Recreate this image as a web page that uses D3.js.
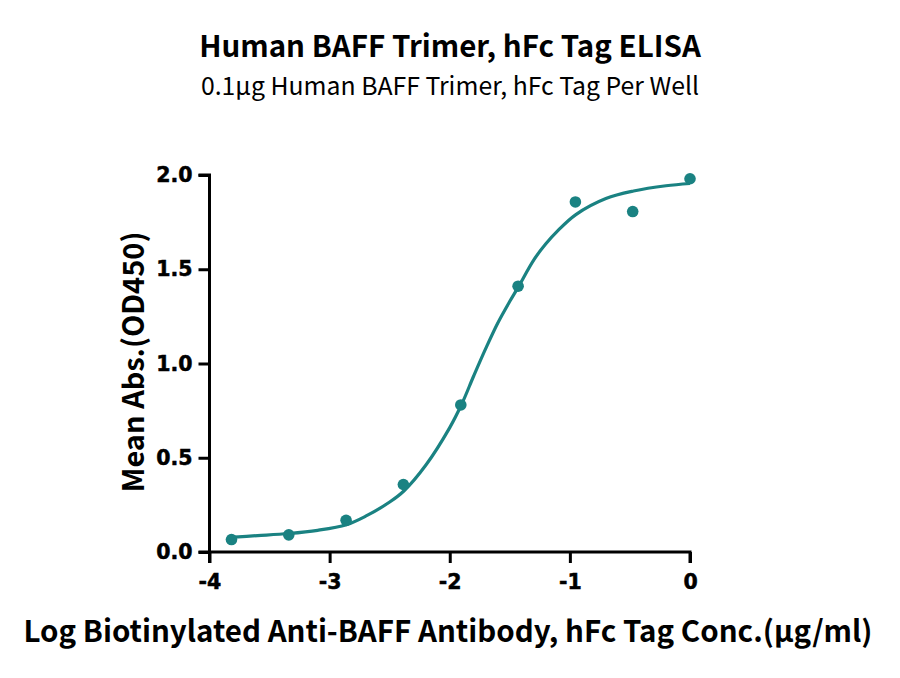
<!DOCTYPE html>
<html>
<head>
<meta charset="utf-8">
<script src="https://cdn.jsdelivr.net/npm/d3@7"></script>
<style>
  body { margin: 0; background: #fff; }
  svg { display: block; }
</style>
</head>
<body>
<svg id="chart"></svg>
<script>
var screen = {width: 900, height: 678}
var plot = {left: 209.5, right: 690, top: 175, bottom: 552}

var titleText = "Human BAFF Trimer, hFc Tag ELISA"
var subtitleText = "0.1\u03bcg Human BAFF Trimer, hFc Tag Per Well"
var xTitle = "Log Biotinylated Anti-BAFF Antibody, hFc Tag Conc.(\u03bcg/ml)"
var yTitle = "Mean Abs.(OD450)"

// measured points (log conc, OD450)
var logConc = [-3.817, -3.340, -2.863, -2.386, -1.908, -1.431, -0.954, -0.477, 0]
var meanAbs = [0.066, 0.091, 0.168, 0.358, 0.780, 1.410, 1.857, 1.806, 1.980]

// fitted curve
var fitX = [-3.83, -3.6, -3.34, -3.1, -2.86, -2.7, -2.5, -2.38, -2.2, -2.0, -1.9, -1.8, -1.7, -1.6, -1.5, -1.43, -1.3, -1.2, -1.1, -0.95, -0.7, -0.47, -0.2, 0]
var fitY = [0.078, 0.087, 0.098, 0.115, 0.145, 0.19, 0.265, 0.325, 0.46, 0.66, 0.785, 0.935, 1.08, 1.215, 1.33, 1.405, 1.55, 1.635, 1.705, 1.79, 1.875, 1.915, 1.943, 1.955]

var xTicks = [-4, -3, -2, -1, 0]
var yTicks = [0, 0.5, 1.0, 1.5, 2.0]

var teal = "#1a8282"
var sans = "'Noto Sans CJK SC', 'Noto Sans', sans-serif"

var svg = d3.select("#chart")
  .attr("width", screen.width)
  .attr("height", screen.height)

var xScale = d3.scaleLinear().domain([-4, 0]).range([plot.left, plot.right])
var yScale = d3.scaleLinear().domain([0, 2]).range([plot.bottom, plot.top])

// titles
svg.append("text")
  .attr("x", 450).attr("y", 57)
  .attr("text-anchor", "middle")
  .style("font-family", sans)
  .style("font-weight", "bold")
  .style("font-size", "29.5px")
  .text(titleText)

svg.append("text")
  .attr("x", 450).attr("y", 95)
  .attr("text-anchor", "middle")
  .style("font-family", sans)
  .style("font-size", "24.8px")
  .text(subtitleText)

// axes
var xAxis = d3.axisBottom(xScale)
  .tickValues(xTicks)
  .tickSize(11)
  .tickPadding(8)
  .tickFormat(function(d) { return String(d) })
var yAxis = d3.axisLeft(yScale)
  .tickValues(yTicks)
  .tickSize(11)
  .tickPadding(6)
  .tickFormat(d3.format(".1f"))

var gx = svg.append("g")
  .attr("transform", "translate(0," + plot.bottom + ")")
  .call(xAxis)
var gy = svg.append("g")
  .attr("transform", "translate(" + plot.left + ",0)")
  .call(yAxis)

gx.select(".domain").attr("d", "M" + (plot.left - 11) + ",0H" + plot.right + "V11")
gy.select(".domain").attr("d", "M-11," + plot.top + "H0V" + (plot.bottom + 11))

svg.selectAll(".domain, .tick line")
  .attr("stroke", "#000")
  .attr("stroke-width", 3)

svg.selectAll(".tick text")
  .attr("fill", "#000")
  .attr("stroke", "#000")
  .attr("stroke-width", 0.5)
  .style("font-family", "'DejaVu Sans', Verdana, sans-serif")
  .style("font-weight", "bold")
  .style("font-size", "20.5px")
gx.selectAll(".tick text").attr("dy", "0.9em")

// axis titles
svg.append("text")
  .attr("x", 448).attr("y", 642)
  .attr("text-anchor", "middle")
  .style("font-family", sans)
  .style("font-weight", "bold")
  .style("font-size", "29.5px")
  .text(xTitle)

svg.append("text")
  .attr("transform", "translate(144," + 362 + ") rotate(-90)")
  .attr("text-anchor", "middle")
  .style("font-family", sans)
  .style("font-weight", "bold")
  .style("font-size", "29px")
  .text(yTitle)

// fitted curve
var fitData = fitX.map(function(x, i) { return {x: x, y: fitY[i]} })
var line = d3.line()
  .x(function(d) { return xScale(d.x) })
  .y(function(d) { return yScale(d.y) })
  .curve(d3.curveCatmullRom.alpha(0.5))

svg.append("path")
  .datum(fitData)
  .attr("d", line)
  .attr("fill", "none")
  .attr("stroke", teal)
  .attr("stroke-width", 3.2)

// points
svg.selectAll("circle.pt")
  .data(logConc)
  .enter()
  .append("circle")
  .attr("class", "pt")
  .attr("cx", function(d) { return xScale(d) })
  .attr("cy", function(d, i) { return yScale(meanAbs[i]) })
  .attr("r", 5.8)
  .attr("fill", teal)
</script>
</body>
</html>
